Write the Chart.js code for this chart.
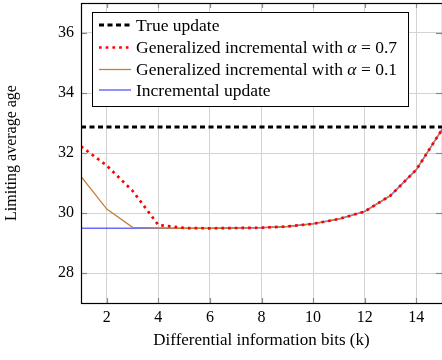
<!DOCTYPE html>
<html>
<head>
<meta charset="utf-8">
<script src="https://cdn.jsdelivr.net/npm/chart.js@4/dist/chart.umd.min.js"></script>
<style>
html,body{margin:0;padding:0;background:#fff;}
#wrap{width:442px;height:360px;position:relative;}
</style>
</head>
<body>
<div id="wrap"><canvas id="c" width="442" height="360"></canvas></div>
<script>
const kValues = [1,2,3,4,5,6,7,8,9,10,11,12,13,14,15];
const trueUpdate = [32.87,32.87,32.87,32.87,32.87,32.87,32.87,32.87,32.87,32.87,32.87,32.87,32.87,32.87,32.87];
const genAlpha07 = [32.22,31.58,30.74,29.60,29.50,29.49,29.50,29.51,29.55,29.64,29.80,30.05,30.58,31.44,32.78];
const genAlpha01 = [31.22,30.13,29.52,29.50,29.49,29.49,29.50,29.51,29.55,29.64,29.80,30.05,30.58,31.44,32.78];
const incremental = [29.49,29.49,29.49,29.49,29.49,29.49,29.50,29.51,29.55,29.64,29.80,30.05,30.58,31.44,32.78];
const xTicks = [2,4,6,8,10,12,14];
const yTicks = [28,30,32,34,36];
const labels = [
  {pre:'True update'},
  {pre:'Generalized incremental with ', sym:'\u03b1', post:' = 0.7'},
  {pre:'Generalized incremental with ', sym:'\u03b1', post:' = 0.1'},
  {pre:'Incremental update'}
];

const FONT = '"Liberation Serif", "Times New Roman", serif';
const pts = arr => kValues.map((k,i)=>({x:k,y:arr[i]}));

const styles = [
  {color:'#000000', width:3, dash:[5,3.5]},
  {color:'#ff0000', width:2.7, dash:[2.7,4]},
  {color:'#bf8040', width:1.3, dash:[]},
  {color:'rgba(0,0,255,0.58)', width:1.5, dash:[]}
];
const series = [trueUpdate, genAlpha07, genAlpha01, incremental];

const frameLegend = {
  id:'frameLegend',
  beforeDatasetsDraw(chart){
    const ctx = chart.ctx, a = chart.chartArea;
    const xs = chart.scales.x, ys = chart.scales.y;
    ctx.save();
    ctx.strokeStyle = '#8a8a8a';
    ctx.lineWidth = 1.2;
    xTicks.forEach(v=>{
      const px = Math.round(xs.getPixelForValue(v))+0.5;
      ctx.beginPath(); ctx.moveTo(px, a.bottom); ctx.lineTo(px, a.bottom-5); ctx.stroke();
      ctx.beginPath(); ctx.moveTo(px, a.top); ctx.lineTo(px, a.top+5); ctx.stroke();
    });
    yTicks.forEach(v=>{
      const py = Math.round(ys.getPixelForValue(v))+0.5;
      ctx.beginPath(); ctx.moveTo(a.left, py); ctx.lineTo(a.left+6, py); ctx.stroke();
      ctx.beginPath(); ctx.moveTo(a.right, py); ctx.lineTo(a.right-6, py); ctx.stroke();
    });
    ctx.restore();
  },
  afterDatasetsDraw(chart){
    const ctx = chart.ctx, a = chart.chartArea;
    ctx.save();
    ctx.strokeStyle = '#000';
    ctx.lineWidth = 1.2;
    ctx.setLineDash([]);
    ctx.strokeRect(Math.round(a.left)+0.5, Math.round(a.top)+0.5, Math.round(a.right-a.left), Math.round(a.bottom-a.top));
    // legend box
    const bx = 92.5, by = 12.5, bw = 316, bh = 94;
    ctx.fillStyle = '#fff';
    ctx.fillRect(bx, by, bw, bh);
    ctx.lineWidth = 1;
    ctx.strokeRect(bx, by, bw, bh);
    const rows = [25, 47.5, 69.5, 90];
    ctx.textBaseline = 'middle';
    chart.data.datasets.forEach((ds,i)=>{
      const y = rows[i];
      ctx.beginPath();
      ctx.strokeStyle = ds.borderColor;
      ctx.lineWidth = ds.borderWidth;
      ctx.setLineDash(ds.borderDash || []);
      ctx.moveTo(99, y); ctx.lineTo(131, y);
      ctx.stroke();
      ctx.setLineDash([]);
      const L = labels[i];
      let x = 136;
      ctx.fillStyle = '#000';
      ctx.font = '17.5px ' + FONT;
      ctx.fillText(L.pre, x, y+1);
      x += ctx.measureText(L.pre).width;
      if (L.sym){
        ctx.font = 'italic 17.5px ' + FONT;
        ctx.fillText(L.sym, x, y+1);
        x += ctx.measureText(L.sym).width;
        ctx.font = '17.5px ' + FONT;
        ctx.fillText(L.post, x, y+1);
      }
    });
    ctx.restore();
  }
};

new Chart(document.getElementById('c'), {
  type:'line',
  data:{
    datasets: series.map((s,i)=>({
      label: labels[i].pre + (labels[i].sym ? labels[i].sym + labels[i].post : ''),
      data: pts(s),
      borderColor: styles[i].color,
      borderWidth: styles[i].width,
      borderDash: styles[i].dash,
      borderCapStyle: 'butt',
      pointRadius: 0,
      tension: 0,
      fill: false
    }))
  },
  options:{
    responsive:false,
    animation:false,
    layout:{padding:{top:3,right:0,left:0,bottom:0}},
    plugins:{legend:{display:false}, tooltip:{enabled:false}},
    scales:{
      x:{
        type:'linear', min:1, max:15,
        afterBuildTicks: ax => { ax.ticks = xTicks.map(v=>({value:v})); },
        afterFit: ax => { ax.height = 57; ax.paddingLeft = 0; ax.paddingRight = 0; },
        grid:{color:'#d3d3d3', lineWidth:1, drawTicks:false},
        border:{display:false},
        ticks:{color:'#000', font:{family:FONT, size:16}, padding:5, maxRotation:0},
        title:{display:true, text:'Differential information bits (k)', color:'#000', font:{family:FONT, size:17}, padding:{top:4, bottom:9}}
      },
      y:{
        type:'linear', min:27, max:37,
        afterBuildTicks: ax => { ax.ticks = yTicks.map(v=>({value:v})); },
        afterFit: ax => { ax.width = 81; ax.paddingTop = 0; ax.paddingBottom = 0; },
        grid:{color:'#d3d3d3', lineWidth:1, drawTicks:false},
        border:{display:false},
        ticks:{color:'#000', font:{family:FONT, size:16}, padding:7},
        title:{display:true, text:'Limiting average age', color:'#000', font:{family:FONT, size:16}, padding:{bottom:0, top:2}}
      }
    }
  },
  plugins:[frameLegend]
});
</script>
</body>
</html>
